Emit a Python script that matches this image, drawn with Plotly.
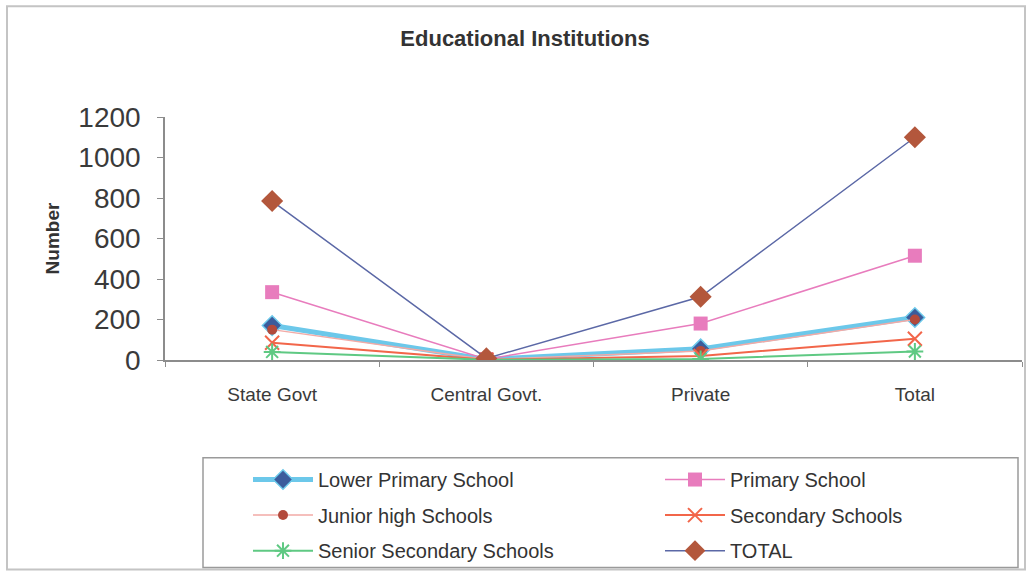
import plotly.graph_objects as go

# Institution categories along the x axis
categories = ["State Govt", "Central Govt.", "Private", "Total"]

# Number of institutions per school type
lower_primary = [170, 3, 55, 210]
primary = [335, 4, 180, 515]
junior_high = [150, 2, 45, 200]
secondary = [85, 1, 20, 105]
senior_secondary = [40, 1, 5, 42]
total = [785, 8, 312, 1100]

y_ticks = [0, 200, 400, 600, 800, 1000, 1200]

W, H = 1029, 577
L, R, T, B = 165, 7, 117, 214  # plot area margins in px
PW, PH = W - L - R, H - T - B


def px_x(px):
    return (px - L) / PW


def px_y(py):
    return (H - B - py) / PH


FONT = "Arial, Liberation Sans, sans-serif"

# each legend entry sits in its own legend box: (legend id, x px, y px)
slots = [("legend", 248, 484), ("legend2", 660, 484),
         ("legend3", 248, 520), ("legend4", 660, 520),
         ("legend5", 248, 556), ("legend6", 660, 556)]

series = [
    dict(name="Lower Primary School", y=lower_primary, line=dict(color="#6cc8ea", width=5),
         marker=dict(symbol="diamond", size=15, color="#3b5c9c",
                     line=dict(color="#6cc8ea", width=1.5))),
    dict(name="Primary School", y=primary, line=dict(color="#e87cbd", width=1.5),
         marker=dict(symbol="square", size=14, color="#e87cbd")),
    dict(name="Junior high Schools", y=junior_high, line=dict(color="#f2aaa6", width=1.5),
         marker=dict(symbol="circle", size=10, color="#b34a3c")),
    dict(name="Secondary Schools", y=secondary, line=dict(color="#f2664a", width=2),
         marker=dict(symbol="x-thin-open", size=14, color="#f2664a",
                     line=dict(color="#f2664a", width=2))),
    dict(name="Senior Secondary Schools", y=senior_secondary, line=dict(color="#5fc983", width=2),
         marker=dict(symbol="asterisk-open", size=14, color="#5fc983",
                     line=dict(color="#5fc983", width=2))),
    dict(name="TOTAL", y=total, line=dict(color="#5b68a6", width=1.5),
         marker=dict(symbol="diamond", size=17, color="#b3573c")),
]

fig = go.Figure()
legends = {}
for s, (lid, lx, ly) in zip(series, slots):
    fig.add_trace(go.Scatter(x=categories, y=s["y"], name=s["name"], mode="lines+markers",
                             line=s["line"], marker=s["marker"], legend=lid))
    legends[lid] = dict(orientation="v", font=dict(family=FONT, size=20, color="#333333"),
                        bgcolor="rgba(0,0,0,0)", itemwidth=60,
                        xanchor="left", yanchor="middle", x=px_x(lx), y=px_y(ly))

fig.update_layout(
    width=W, height=H,
    margin=dict(l=L, r=R, t=T, b=B),
    paper_bgcolor="white", plot_bgcolor="white",
    title=dict(text="<b>Educational Institutions</b>", x=525 / W, xref="container",
               xanchor="center", y=1 - 38 / H, yref="container", yanchor="middle",
               font=dict(family=FONT, size=22, color="#333333")),
    showlegend=True,
    xaxis=dict(type="category", range=[-0.5, 3.5], showgrid=False, showline=True,
               linecolor="#8c8c8c", linewidth=1.5, ticks="outside", tickson="boundaries",
               ticklen=5, tickcolor="#8c8c8c", ticklabelstandoff=16,
               tickfont=dict(family=FONT, size=19, color="#3a3a3a")),
    yaxis=dict(range=[0, 1200], tickvals=y_ticks, showgrid=False, showline=True,
               linecolor="#8c8c8c", linewidth=1.5, ticks="outside", ticklen=6,
               tickcolor="#8c8c8c", zeroline=False, ticklabelstandoff=11,
               tickfont=dict(family=FONT, size=28, color="#3a3a3a"),
               title=dict(text="<b>Number</b>", standoff=14,
                          font=dict(family=FONT, size=19, color="#333333"))),
    shapes=[
        # outer chart frame
        dict(type="rect", xref="paper", yref="paper",
             x0=px_x(7), x1=px_x(1025), y0=px_y(575), y1=px_y(5),
             line=dict(color="#c4c4c4", width=2), layer="below"),
        # legend frame
        dict(type="rect", xref="paper", yref="paper",
             x0=px_x(203), x1=px_x(1018), y0=px_y(573), y1=px_y(462),
             line=dict(color="#9a9a9a", width=1.5), layer="below"),
    ],
    **legends,
)

fig.write_html("out.html")
